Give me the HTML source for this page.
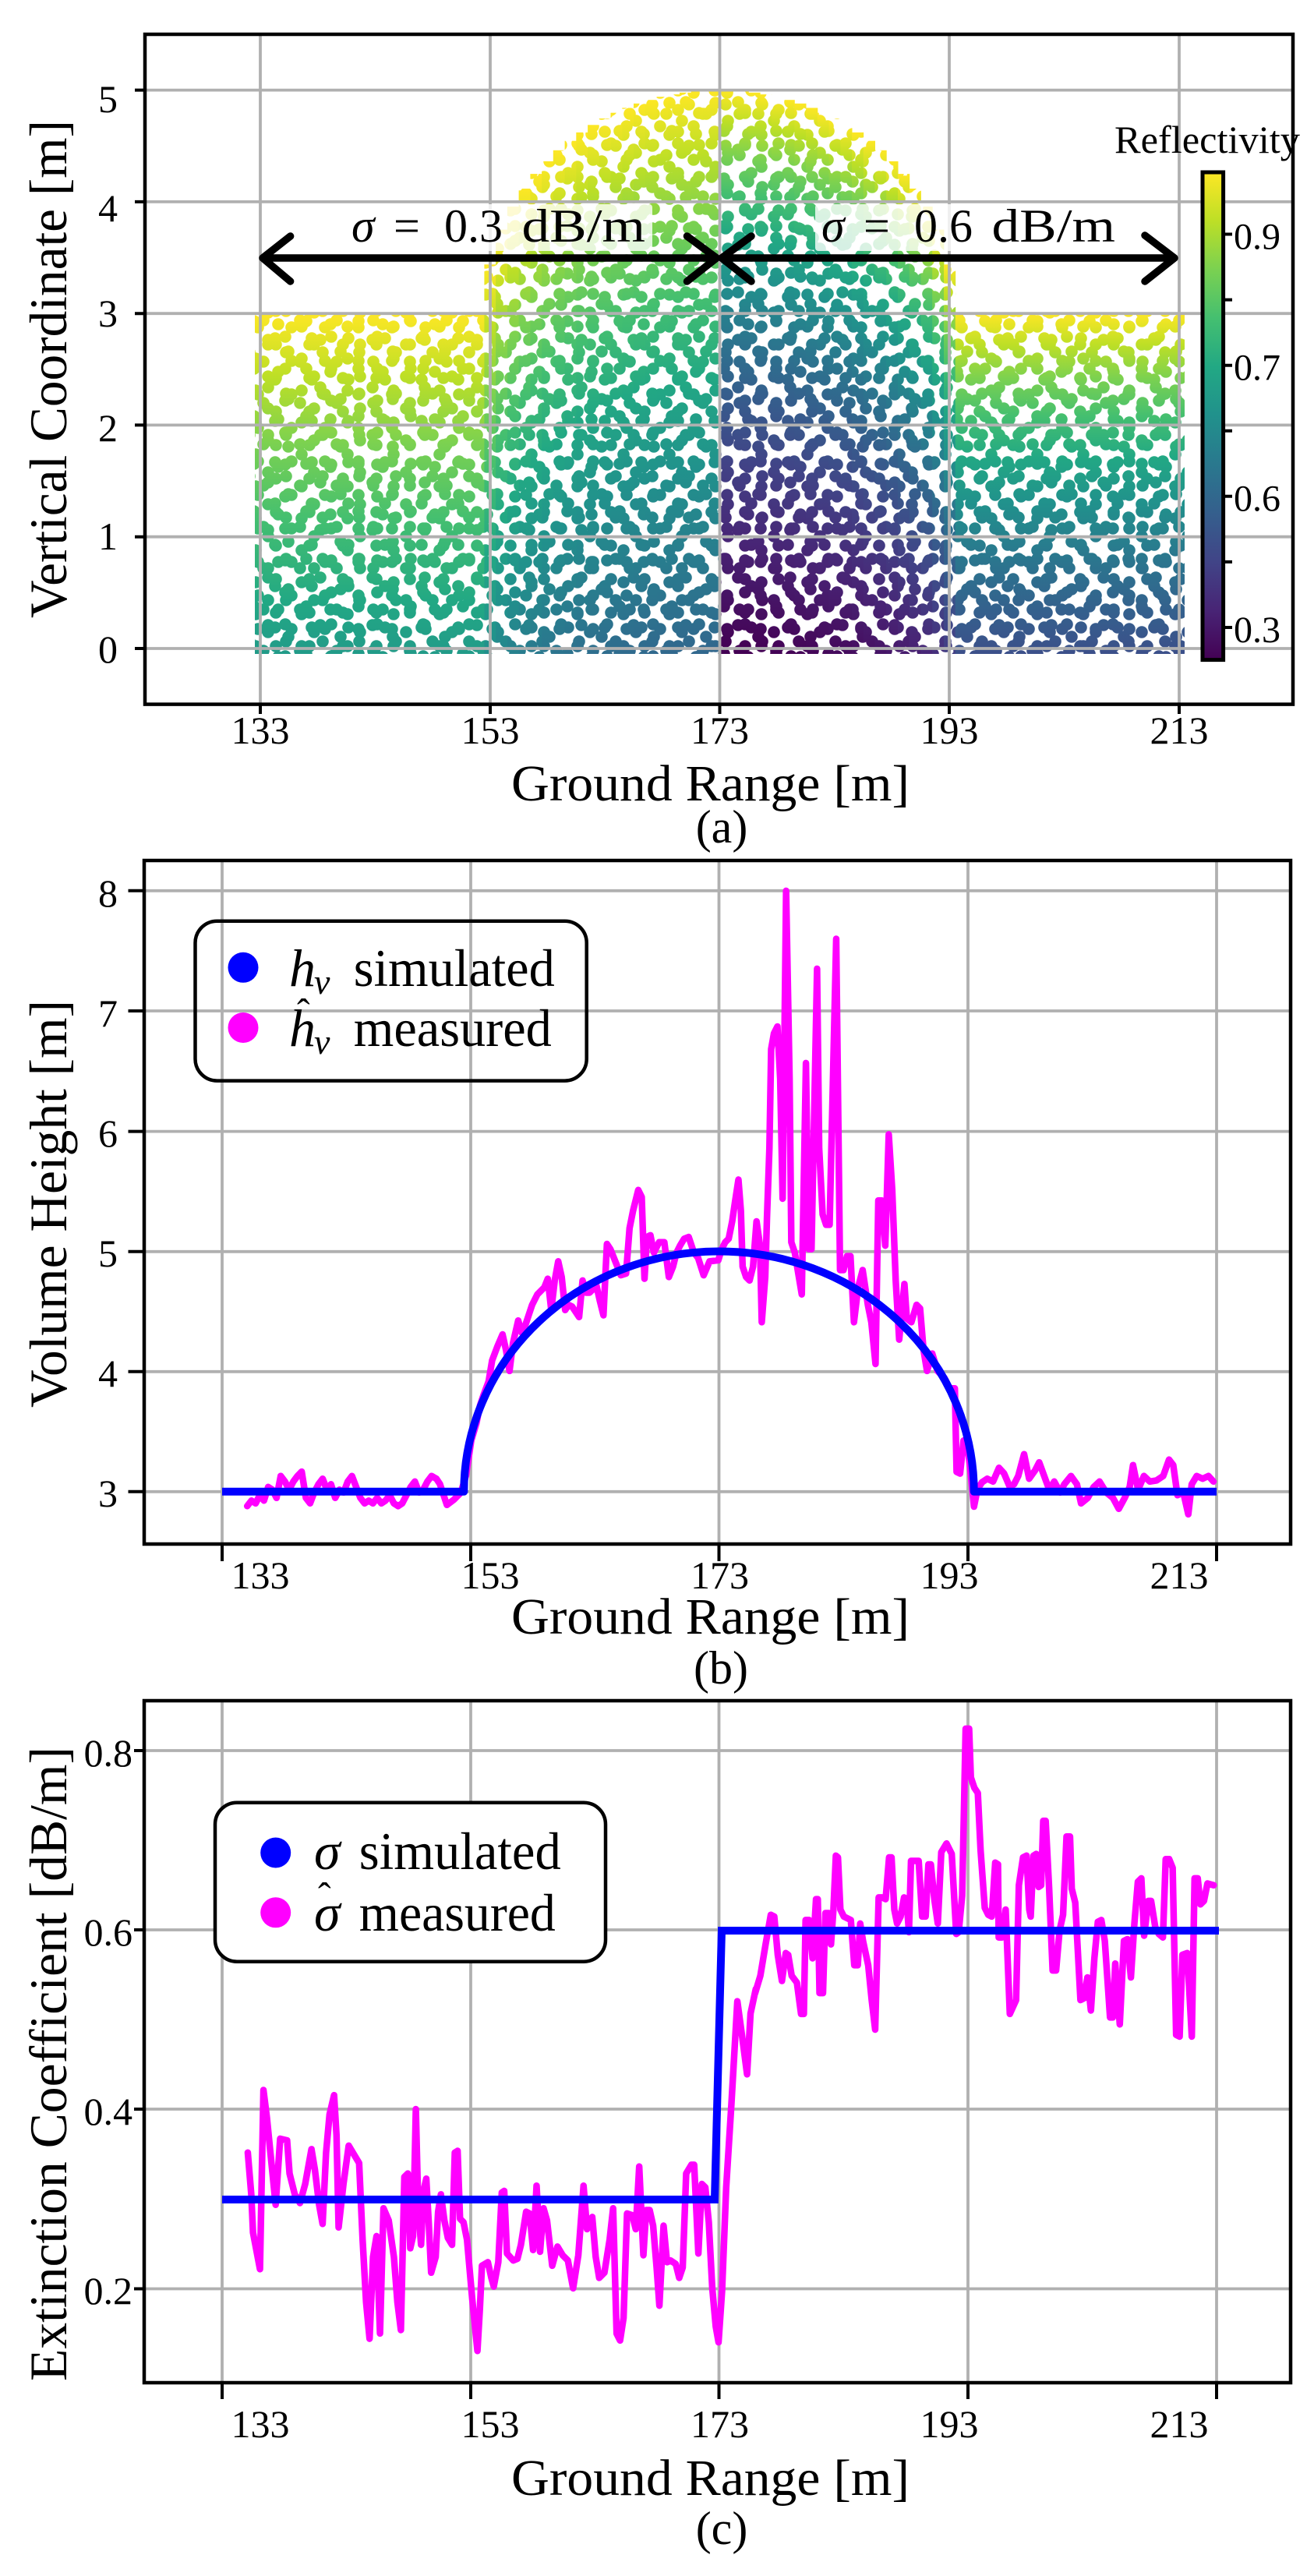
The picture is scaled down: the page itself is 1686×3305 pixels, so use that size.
<!DOCTYPE html>
<html><head><meta charset="utf-8">
<style>html,body{margin:0;padding:0;background:#fff}svg{display:block}</style>
</head><body>
<svg xmlns="http://www.w3.org/2000/svg" width="1686" height="3305" viewBox="0 0 1686 3305" font-family="'Liberation Serif','DejaVu Serif',serif">
<defs>
<linearGradient id="gL" gradientUnits="userSpaceOnUse" x1="0" y1="0" x2="0" y2="1437">
<stop offset="0" stop-color="#fde725"/><stop offset="0.0563" stop-color="#bddf26"/><stop offset="0.1172" stop-color="#7ad151"/><stop offset="0.1839" stop-color="#44bf70"/><stop offset="0.2574" stop-color="#22a884"/><stop offset="0.3392" stop-color="#21918c"/><stop offset="0.4314" stop-color="#2a788e"/><stop offset="0.5372" stop-color="#355f8d"/><stop offset="0.6612" stop-color="#414487"/><stop offset="0.8111" stop-color="#482475"/><stop offset="1" stop-color="#440154"/>
</linearGradient>
<linearGradient id="gR" gradientUnits="userSpaceOnUse" x1="0" y1="0" x2="0" y2="718.6">
<stop offset="0" stop-color="#fde725"/><stop offset="0.0563" stop-color="#bddf26"/><stop offset="0.1172" stop-color="#7ad151"/><stop offset="0.1839" stop-color="#44bf70"/><stop offset="0.2574" stop-color="#22a884"/><stop offset="0.3392" stop-color="#21918c"/><stop offset="0.4314" stop-color="#2a788e"/><stop offset="0.5372" stop-color="#355f8d"/><stop offset="0.6612" stop-color="#414487"/><stop offset="0.8111" stop-color="#482475"/><stop offset="1" stop-color="#440154"/>
</linearGradient>
<linearGradient id="cb" x1="0" y1="0" x2="0" y2="1">
<stop offset="0" stop-color="#fde725"/><stop offset="0.1" stop-color="#bddf26"/><stop offset="0.2" stop-color="#7ad151"/><stop offset="0.3" stop-color="#44bf70"/><stop offset="0.4" stop-color="#22a884"/><stop offset="0.5" stop-color="#21918c"/><stop offset="0.6" stop-color="#2a788e"/><stop offset="0.7" stop-color="#355f8d"/><stop offset="0.8" stop-color="#414487"/><stop offset="0.9" stop-color="#482475"/><stop offset="1" stop-color="#440154"/>
</linearGradient>
<pattern id="p1" width="43" height="43" patternUnits="userSpaceOnUse"><circle cx="10" cy="12" r="7.8" fill="#fff"/><circle cx="30" cy="33" r="7.8" fill="#fff"/></pattern>
<pattern id="p2" width="47" height="53" patternUnits="userSpaceOnUse"><circle cx="9" cy="40" r="7.8" fill="#fff"/><circle cx="24" cy="10" r="7.8" fill="#fff"/><circle cx="38" cy="28" r="7.8" fill="#fff"/></pattern>
<pattern id="p3" width="59" height="41" patternUnits="userSpaceOnUse"><circle cx="12" cy="22" r="7.8" fill="#fff"/><circle cx="33" cy="9" r="7.8" fill="#fff"/><circle cx="49" cy="32" r="7.8" fill="#fff"/></pattern>
<pattern id="p4" width="67" height="61" patternUnits="userSpaceOnUse"><circle cx="9" cy="9" r="7.8" fill="#fff"/><circle cx="35" cy="24" r="7.8" fill="#fff"/><circle cx="58" cy="46" r="7.8" fill="#fff"/><circle cx="22" cy="50" r="7.8" fill="#fff"/></pattern>
<mask id="dm" maskUnits="userSpaceOnUse" x="0" y="0" width="1686" height="1000">
<rect x="300" y="90" width="1240" height="770" fill="url(#p1)"/>
<rect x="300" y="90" width="1240" height="770" fill="url(#p2)"/>
<rect x="300" y="90" width="1240" height="770" fill="url(#p3)"/>
<rect x="300" y="90" width="1240" height="770" fill="url(#p4)"/>
</mask>
<clipPath id="reg"><path d="M327,839 L327,395.6 L614.6,395.6 A309,294 0 1 1 1232.4,395.6 L1520,395.6 L1520,839 Z"/></clipPath>
</defs>
<rect width="1686" height="3305" fill="#fff"/>

<!-- ================= PANEL A ================= -->
<g clip-path="url(#reg)"><g mask="url(#dm)">
<rect x="300" y="0" width="322" height="800" fill="url(#gL)" transform="translate(0 402.2)"/>
<rect x="621.4" width="15.2" height="800" fill="url(#gL)" transform="translate(0 339.3)"/>
<rect x="636.1" width="15.2" height="800" fill="url(#gL)" transform="translate(0 294.6)"/>
<rect x="650.9" width="15.2" height="800" fill="url(#gL)" transform="translate(0 265.0)"/>
<rect x="665.6" width="15.2" height="800" fill="url(#gL)" transform="translate(0 242.0)"/>
<rect x="680.4" width="15.2" height="800" fill="url(#gL)" transform="translate(0 223.1)"/>
<rect x="695.1" width="15.2" height="800" fill="url(#gL)" transform="translate(0 206.9)"/>
<rect x="709.8" width="15.2" height="800" fill="url(#gL)" transform="translate(0 192.8)"/>
<rect x="724.6" width="15.2" height="800" fill="url(#gL)" transform="translate(0 180.7)"/>
<rect x="739.3" width="15.2" height="800" fill="url(#gL)" transform="translate(0 169.9)"/>
<rect x="754.1" width="15.2" height="800" fill="url(#gL)" transform="translate(0 160.3)"/>
<rect x="768.8" width="15.2" height="800" fill="url(#gL)" transform="translate(0 152.0)"/>
<rect x="783.5" width="15.2" height="800" fill="url(#gL)" transform="translate(0 144.7)"/>
<rect x="798.3" width="15.2" height="800" fill="url(#gL)" transform="translate(0 138.4)"/>
<rect x="813.0" width="15.2" height="800" fill="url(#gL)" transform="translate(0 132.8)"/>
<rect x="827.8" width="15.2" height="800" fill="url(#gL)" transform="translate(0 128.2)"/>
<rect x="842.5" width="15.2" height="800" fill="url(#gL)" transform="translate(0 124.2)"/>
<rect x="857.2" width="15.2" height="800" fill="url(#gL)" transform="translate(0 121.1)"/>
<rect x="872.0" width="15.2" height="800" fill="url(#gL)" transform="translate(0 118.8)"/>
<rect x="886.7" width="15.2" height="800" fill="url(#gL)" transform="translate(0 117.0)"/>
<rect x="901.5" width="15.2" height="800" fill="url(#gL)" transform="translate(0 115.9)"/>
<rect x="916.2" width="7.5" height="800" fill="url(#gL)" transform="translate(0 115.6)"/>
<rect x="923.5" width="7.6" height="800" fill="url(#gR)" transform="translate(0 115.6)"/>
<rect x="930.9" width="15.2" height="800" fill="url(#gR)" transform="translate(0 115.9)"/>
<rect x="945.6" width="15.2" height="800" fill="url(#gR)" transform="translate(0 117.0)"/>
<rect x="960.4" width="15.2" height="800" fill="url(#gR)" transform="translate(0 118.8)"/>
<rect x="975.1" width="15.2" height="800" fill="url(#gR)" transform="translate(0 121.1)"/>
<rect x="989.9" width="15.2" height="800" fill="url(#gR)" transform="translate(0 124.2)"/>
<rect x="1004.6" width="15.2" height="800" fill="url(#gR)" transform="translate(0 128.2)"/>
<rect x="1019.3" width="15.2" height="800" fill="url(#gR)" transform="translate(0 132.8)"/>
<rect x="1034.1" width="15.2" height="800" fill="url(#gR)" transform="translate(0 138.4)"/>
<rect x="1048.8" width="15.2" height="800" fill="url(#gR)" transform="translate(0 144.7)"/>
<rect x="1063.6" width="15.2" height="800" fill="url(#gR)" transform="translate(0 152.0)"/>
<rect x="1078.3" width="15.2" height="800" fill="url(#gR)" transform="translate(0 160.3)"/>
<rect x="1093.0" width="15.2" height="800" fill="url(#gR)" transform="translate(0 169.9)"/>
<rect x="1107.8" width="15.2" height="800" fill="url(#gR)" transform="translate(0 180.7)"/>
<rect x="1122.5" width="15.2" height="800" fill="url(#gR)" transform="translate(0 192.8)"/>
<rect x="1137.3" width="15.2" height="800" fill="url(#gR)" transform="translate(0 206.9)"/>
<rect x="1152.0" width="15.2" height="800" fill="url(#gR)" transform="translate(0 223.1)"/>
<rect x="1166.7" width="15.2" height="800" fill="url(#gR)" transform="translate(0 242.0)"/>
<rect x="1181.5" width="15.2" height="800" fill="url(#gR)" transform="translate(0 265.0)"/>
<rect x="1196.2" width="15.2" height="800" fill="url(#gR)" transform="translate(0 294.6)"/>
<rect x="1211.0" width="15.2" height="800" fill="url(#gR)" transform="translate(0 339.3)"/>
<rect x="1225.7" width="320" height="800" fill="url(#gR)" transform="translate(0 402.2)"/>
</g></g>

<!-- grid a -->
<g stroke="#b0b0b0" stroke-width="3.8" fill="none">
<path d="M334,44 V903.6 M629,44 V903.6 M923.5,44 V903.6 M1218,44 V903.6 M1513,44 V903.6"/>
<path d="M186,115.6 H1659 M186,258.9 H1659 M186,402.2 H1659 M186,545.4 H1659 M186,688.7 H1659 M186,832 H1659"/>
</g>

<!-- annotation boxes and text -->
<rect x="443" y="262" width="394" height="60" rx="4" fill="#fff" fill-opacity="0.8"/>
<rect x="1046" y="262" width="394" height="60" rx="4" fill="#fff" fill-opacity="0.8"/>
<g font-size="60" fill="#000">
<text x="451" y="310" font-style="italic">σ</text>
<text x="505" y="310">=</text>
<text x="570" y="310">0.3</text>
<text x="669.5" y="310" textLength="158.5" lengthAdjust="spacingAndGlyphs">dB/m</text>
<text x="1054" y="310" font-style="italic">σ</text>
<text x="1108" y="310">=</text>
<text x="1173" y="310">0.6</text>
<text x="1272.5" y="310" textLength="158.5" lengthAdjust="spacingAndGlyphs">dB/m</text>
</g>
<g stroke="#000" stroke-width="9.5" fill="none" stroke-linecap="round" stroke-linejoin="round">
<path d="M337,331 H919 M372.6,303 L337,331 L372.6,361 M881.5,303 L919.5,331 L881.5,361"/>
<path d="M926,331 H1507 M964,303 L926,331 L964,361 M1469,302 L1507,331 L1469,361"/>
</g>

<!-- frame a -->
<rect x="186" y="44" width="1473" height="859.6" fill="none" stroke="#000" stroke-width="4.5"/>
<g stroke="#000" stroke-width="4">
<path d="M334,903.6 V916 M629,903.6 V916 M923.5,903.6 V916 M1218,903.6 V916 M1513,903.6 V916"/>
<path d="M173,115.6 H186 M173,258.9 H186 M173,402.2 H186 M173,545.4 H186 M173,688.7 H186 M173,832 H186"/>
</g>
<g font-size="50" fill="#000" text-anchor="end">
<text x="151" y="144">5</text>
<text x="151" y="284">4</text>
<text x="151" y="419">3</text>
<text x="151" y="566">2</text>
<text x="151" y="705">1</text>
<text x="151" y="850">0</text>
</g>
<g font-size="50" fill="#000" text-anchor="middle">
<text x="334" y="954">133</text>
<text x="629" y="954">153</text>
<text x="923.5" y="954">173</text>
<text x="1218" y="954">193</text>
<text x="1513" y="954">213</text>
</g>
<text x="911.5" y="1027" font-size="66" text-anchor="middle" textLength="511" lengthAdjust="spacingAndGlyphs">Ground Range [m]</text>
<text x="926" y="1081" font-size="60" text-anchor="middle">(a)</text>
<text transform="translate(85 473.5) rotate(-90)" font-size="68" text-anchor="middle" textLength="639" lengthAdjust="spacingAndGlyphs">Vertical Coordinate [m]</text>

<!-- colorbar -->
<rect x="1543" y="221" width="26.6" height="625.6" fill="url(#cb)" stroke="#000" stroke-width="5"/>
<g stroke="#000" stroke-width="4">
<path d="M1572,300.5 H1581 M1572,384.6 H1581 M1572,468.7 H1581 M1572,552.7 H1581 M1572,636.8 H1581 M1572,720.9 H1581 M1572,805 H1581"/>
</g>
<g font-size="48" fill="#000">
<text x="1583" y="319.5">0.9</text>
<text x="1583" y="487.5">0.7</text>
<text x="1583" y="655.5">0.6</text>
<text x="1583" y="824">0.3</text>
</g>
<text x="1430" y="196" font-size="50" textLength="238" lengthAdjust="spacingAndGlyphs">Reflectivity</text>

<!-- ================= PANEL B ================= -->
<g stroke="#b0b0b0" stroke-width="3.8" fill="none">
<path d="M285,1104 V1981 M604,1104 V1981 M922.5,1104 V1981 M1242,1104 V1981 M1561,1104 V1981"/>
<path d="M185,1142.8 H1656 M185,1297 H1656 M185,1451.6 H1656 M185,1605.8 H1656 M185,1759.8 H1656 M185,1913.8 H1656"/>
</g>
<g stroke="#ff00ff" fill="none" stroke-linejoin="round" stroke-linecap="round">
<polyline stroke-width="8.5" points="317.2,1932.3 322.6,1925.3 328.0,1928.8 333.3,1918.3 338.7,1925.3 344.1,1907.8 349.5,1911.3 354.8,1921.8 360.2,1893.7 365.6,1900.8 371.0,1911.3 376.4,1900.8 381.7,1893.7 387.1,1888.1 392.5,1921.8 397.9,1928.8 403.2,1914.8 408.6,1904.3 414.0,1897.2 419.4,1911.3 424.7,1904.3 430.1,1921.8 435.5,1911.3 440.9,1914.8 446.2,1900.8 451.6,1893.7 457.0,1907.8 462.4,1921.8 467.8,1928.8 473.1,1925.3 478.5,1928.8 483.9,1921.8 489.3,1928.8 494.6,1925.3 500.0,1918.3 505.4,1928.8 510.8,1932.3 516.1,1928.8 521.5,1918.3 526.9,1907.8 532.3,1900.8 537.7,1914.8 543.0,1911.3 548.4,1900.8 553.8,1893.7 560,1897.3"/>
<polyline stroke-width="19" transform="matrix(0.44643 0 0 0.44643 560 1250)" points="0,1450 10,1465 30,1525 50,1510 70,1490 85,1440 100,1340 115,1290 125,1240 135,1210 150,1170 160,1110 175,1070 190,1035 200,1080 210,1140 220,1060 235,995 245,1030 255,1010 265,980 275,950 290,920 300,910 310,900 320,875 330,965 340,880 350,825 360,870 370,965 380,950 390,955 400,970 410,985 420,880 430,915 440,915 450,905 460,895 470,940 480,980 490,775 500,790 510,815 520,840 530,865 545,860 555,730 565,680 580,620 590,640 598,875 605,755 615,750 625,800 640,770 655,770 668,870 680,840 690,800 700,780 712,760 725,755 740,800 752,815 768,865 785,825 810,822 820,790 830,770 840,760 850,710 858,655 868,590 875,680 880,840 890,870 900,880 910,840 920,710 930,780 935,1000 945,870 950,700 957,500 962,215 970,170 980,150 988,300 995,645 1005,-240 1015,300 1020,770 1030,800 1040,860 1050,920 1062,255 1070,790 1078,790 1094,-16 1100,500 1110,690 1120,720 1130,720 1149,-102 1160,850 1170,850 1180,810 1190,810 1200,1000 1212,900 1225,850 1240,950 1250,1000 1262,1120 1270,650 1280,650 1290,780 1300,460 1310,620 1320,880 1330,1050 1345,890 1352,990 1365,1000 1380,950 1390,960 1400,1080 1410,1140 1425,1090 1440,1140 1460,1160 1475,1190 1490,1190 1495,1430 1505,1435 1515,1340 1525,1340 1535,1430 1545,1530 1555,1480 1568,1460"/>
<polyline stroke-width="8.5" points="1260,1901.8 1266.7,1897.2 1274.2,1900.8 1281.8,1883.2 1288.2,1890.2 1295.7,1907.8 1301.1,1904.3 1306.5,1893.7 1314.0,1865.7 1320.5,1897.2 1328.0,1886.7 1333.4,1876.2 1339.8,1893.7 1346.3,1911.3 1352.7,1900.8 1360.3,1914.8 1365.6,1904.3 1374.2,1893.7 1381.8,1904.3 1387.1,1928.8 1395.7,1921.8 1403.3,1907.8 1410.8,1900.8 1419.4,1914.8 1428.0,1921.8 1435.5,1935.8 1443.1,1921.8 1449.5,1907.8 1453.8,1879.7 1460.3,1911.3 1467.8,1893.7 1475.3,1900.8 1483.9,1899.4 1492.5,1893.7 1500.0,1872.7 1505.4,1879.7 1510.8,1918.3 1518.3,1914.8 1524.7,1942.8 1529.1,1904.3 1535.5,1893.7 1543.1,1897.2 1550.6,1893.7 1557.0,1900.8"/>
</g>
<path d="M285,1913.8 L595.3,1913.8 A327.2,308.4 0 0 1 1249.7,1913.8 L1561,1913.8" stroke="#0000ff" stroke-width="10" fill="none" stroke-linejoin="round"/>

<!-- legend b (transparent) -->
<rect x="250.5" y="1181.7" width="502.2" height="204.9" rx="28" fill="none" stroke="#000" stroke-width="4.5"/>
<circle cx="312" cy="1241.3" r="19.5" fill="#0000ff"/>
<circle cx="312" cy="1318.5" r="19.5" fill="#ff00ff"/>
<g fill="#000">
<text x="371" y="1265" font-size="68" font-style="italic">h</text>
<text x="403" y="1275" font-size="46" font-style="italic">v</text>
<text x="453.8" y="1265" font-size="68" textLength="258" lengthAdjust="spacingAndGlyphs">simulated</text>
<text x="371" y="1342" font-size="68" font-style="italic">h</text>
<text x="381" y="1316" font-size="50">ˆ</text>
<text x="403" y="1352" font-size="46" font-style="italic">v</text>
<text x="453.8" y="1342" font-size="68" textLength="254" lengthAdjust="spacingAndGlyphs">measured</text>
</g>

<rect x="185" y="1104" width="1471" height="877" fill="none" stroke="#000" stroke-width="4.5"/>
<g stroke="#000" stroke-width="4">
<path d="M285,1981 V2003 M604,1981 V2003 M922.5,1981 V2003 M1242,1981 V2003 M1561,1981 V2003"/>
<path d="M164.5,1142.8 H185 M164.5,1297 H185 M164.5,1451.6 H185 M164.5,1605.8 H185 M164.5,1759.8 H185 M164.5,1913.8 H185"/>
</g>
<g font-size="50" fill="#000" text-anchor="end">
<text x="151" y="1163">8</text>
<text x="151" y="1317">7</text>
<text x="151" y="1471">6</text>
<text x="151" y="1625">5</text>
<text x="151" y="1779">4</text>
<text x="151" y="1933">3</text>
</g>
<g font-size="50" fill="#000" text-anchor="middle">
<text x="334" y="2038">133</text>
<text x="629" y="2038">153</text>
<text x="923.5" y="2038">173</text>
<text x="1218" y="2038">193</text>
<text x="1513" y="2038">213</text>
</g>
<text x="911.5" y="2096" font-size="66" text-anchor="middle" textLength="511" lengthAdjust="spacingAndGlyphs">Ground Range [m]</text>
<text x="925" y="2160" font-size="60" text-anchor="middle">(b)</text>
<text transform="translate(85 1544.5) rotate(-90)" font-size="68" text-anchor="middle" textLength="523" lengthAdjust="spacingAndGlyphs">Volume Height [m]</text>

<!-- ================= PANEL C ================= -->
<g stroke="#b0b0b0" stroke-width="3.8" fill="none">
<path d="M285,2182 V3057 M604,2182 V3057 M922.5,2182 V3057 M1242,2182 V3057 M1561,2182 V3057"/>
<path d="M185,2246 H1656 M185,2476 H1656 M185,2706 H1656 M185,2936.5 H1656"/>
</g>
<g stroke="#ff00ff" stroke-width="19" fill="none" stroke-linejoin="round" stroke-linecap="round">
<polyline transform="matrix(0.44643 0 0 0.44643 280 2360)" points="85,900 95,1020 100,1130 120,1235 130,720 140,800 150,900 165,1050 178,860 198,865 205,960 220,1020 235,1045 250,990 268,890 278,950 290,1050 300,1105 310,900 320,790 333,735 340,850 346,1115 360,990 375,880 390,905 405,930 415,1150 425,1330 435,1435 445,1200 455,1140 465,1420 475,1060 490,1095 505,1200 515,1330 525,1410 535,970 545,960 552,1175 560,1140 568,775 575,1060 583,1165 590,1010 598,975 605,1100 612,1245 625,1200 632,1070 640,1020 650,1095 660,1145 672,1165 680,900 688,895 695,1090 705,1100 715,1150 730,1320 745,1470 752,1350 758,1225 775,1215 785,1260 792,1285 805,1215 815,1015 822,1010 830,1190 848,1210 860,1205 870,1165 885,1070 895,1075 905,1180 915,995 925,1185 935,1060 945,1095 960,1225 975,1170 990,1195 1005,1210 1020,1290 1035,1195 1050,995 1060,1120 1075,1085 1085,1200 1095,1260 1110,1245 1125,1150 1135,1060 1145,1420 1155,1440 1165,1375 1175,1075 1190,1080 1200,1120 1210,940 1222,1195 1230,1065 1240,1065 1250,1110 1260,1230 1268,1340 1280,1110 1290,1215 1300,1210 1315,1220 1325,1260 1335,1230 1345,960 1360,935 1368,935 1380,1190 1390,990 1400,1000 1410,1100 1420,1290 1430,1400 1438,1445 1448,1300 1460,1000 1475,760 1492,465 1505,560 1520,675 1530,500 1545,430"/>
<polyline transform="matrix(0.44643 0 0 0.44643 960 2200)" points="20,800 35,750 50,660 65,575 75,580 85,690 97,765 108,685 115,690 125,750 140,770 152,860 160,860 165,590 175,590 185,700 195,530 200,530 205,800 215,800 222,570 232,570 238,660 245,560 252,405 258,410 265,560 275,580 295,590 305,720 315,720 322,600 330,650 345,720 355,820 365,905 375,525 385,525 395,530 405,410 412,410 420,560 428,600 438,580 448,525 455,530 462,625 468,420 490,420 500,580 510,580 518,430 525,430 535,530 545,600 555,395 570,370 585,400 598,630 605,625 615,520 625,40 635,40 640,180 650,210 660,225 668,390 680,555 690,575 700,580 710,425 718,430 720,640 730,640 740,560 752,860 770,820 778,490 790,410 800,405 808,560 812,580 820,405 828,400 835,495 842,490 848,305 855,305 865,500 875,735 885,735 895,620 905,575 915,350 925,350 930,500 940,540 955,820 965,815 975,755 985,850 995,700 1005,595 1015,590 1025,650 1040,870 1048,870 1055,715 1068,890 1080,650 1090,645 1100,755 1110,600 1120,480 1130,470 1138,635 1150,535 1158,535 1170,610 1180,630 1192,640 1200,415 1210,415 1220,440 1230,920 1240,925 1248,690 1262,685 1275,925 1283,470 1292,470 1300,545 1310,535 1320,485 1338,490"/>
</g>
<path d="M285,2822 L917,2822 L926,2477 L1564,2477" stroke="#0000ff" stroke-width="10" fill="none" stroke-linejoin="miter"/>

<!-- legend c (opaque) -->
<rect x="276" y="2312.7" width="501" height="204" rx="28" fill="#fff" stroke="#000" stroke-width="4.5"/>
<circle cx="353.7" cy="2377" r="19.5" fill="#0000ff"/>
<circle cx="353.7" cy="2453.8" r="19.5" fill="#ff00ff"/>
<g fill="#000">
<text x="403" y="2398" font-size="68" font-style="italic">σ</text>
<text x="460.8" y="2398" font-size="68" textLength="259" lengthAdjust="spacingAndGlyphs">simulated</text>
<text x="403" y="2477" font-size="68" font-style="italic">σ</text>
<text x="408" y="2450" font-size="50">ˆ</text>
<text x="460.8" y="2477" font-size="68" textLength="252" lengthAdjust="spacingAndGlyphs">measured</text>
</g>

<rect x="185" y="2182" width="1471" height="875" fill="none" stroke="#000" stroke-width="4.5"/>
<g stroke="#000" stroke-width="4">
<path d="M285,3057 V3078 M604,3057 V3078 M922.5,3057 V3078 M1242,3057 V3078 M1561,3057 V3078"/>
<path d="M172,2246 H185 M172,2476 H185 M172,2706 H185 M172,2936.5 H185"/>
</g>
<g font-size="50" fill="#000" text-anchor="end">
<text x="170" y="2266">0.8</text>
<text x="170" y="2496">0.6</text>
<text x="170" y="2726">0.4</text>
<text x="170" y="2956">0.2</text>
</g>
<g font-size="50" fill="#000" text-anchor="middle">
<text x="334" y="3127">133</text>
<text x="629" y="3127">153</text>
<text x="923.5" y="3127">173</text>
<text x="1218" y="3127">193</text>
<text x="1513" y="3127">213</text>
</g>
<text x="911.5" y="3201" font-size="66" text-anchor="middle" textLength="511" lengthAdjust="spacingAndGlyphs">Ground Range [m]</text>
<text x="926" y="3264" font-size="60" text-anchor="middle">(c)</text>
<text transform="translate(85 2648) rotate(-90)" font-size="68" text-anchor="middle" textLength="814" lengthAdjust="spacingAndGlyphs">Extinction Coefficient [dB/m]</text>
</svg>
</body></html>
